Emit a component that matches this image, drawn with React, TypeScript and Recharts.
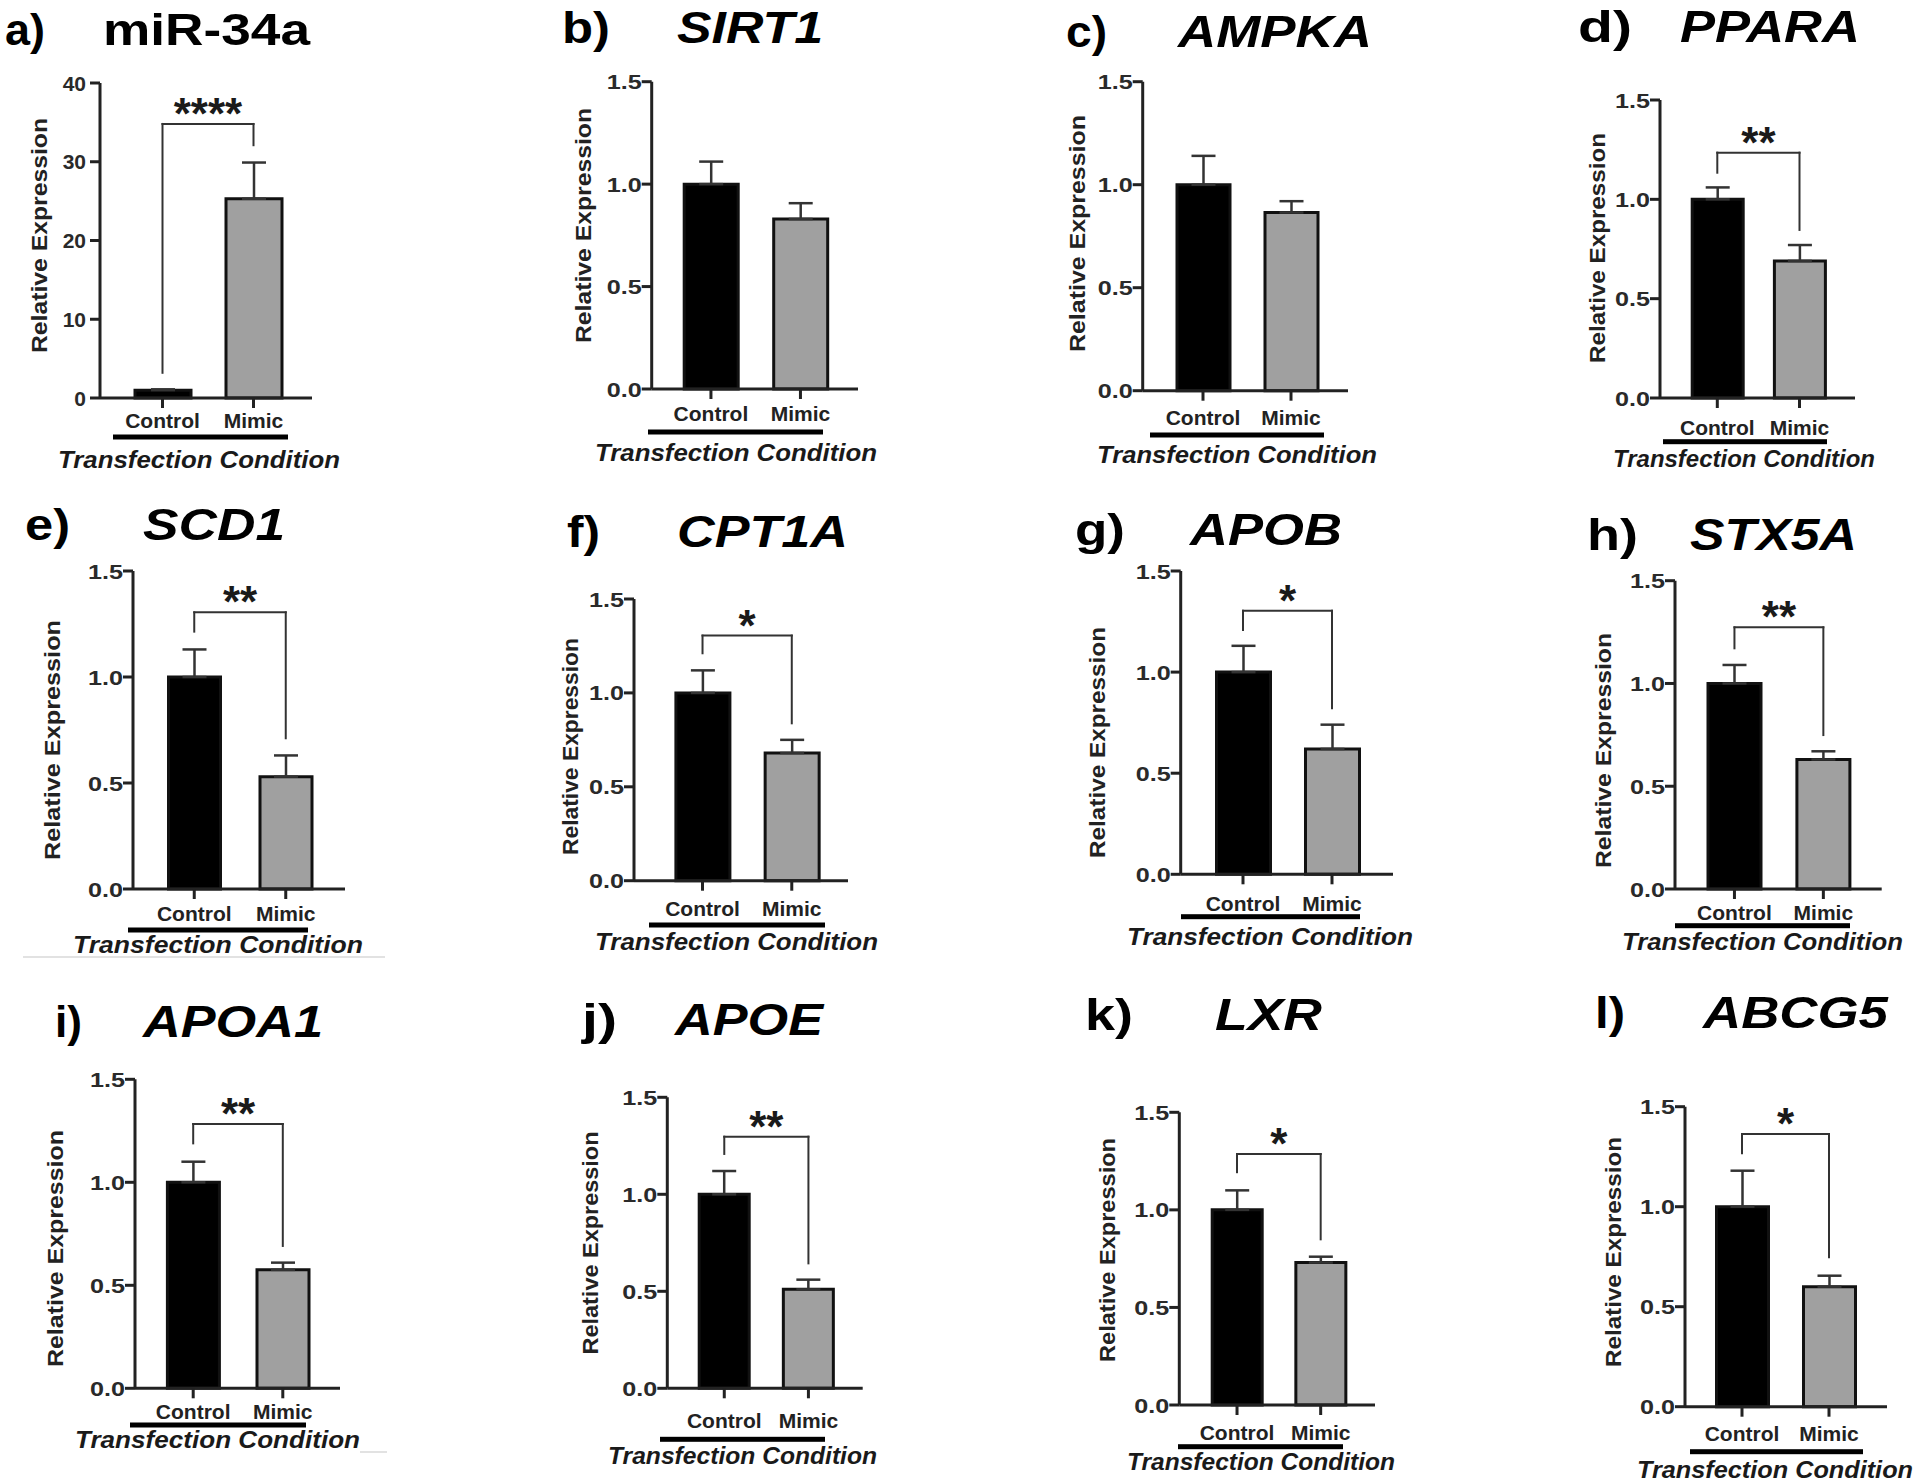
import React from "react";
import {
  BarChart,
  Bar,
  XAxis,
  YAxis,
  Cell,
  ErrorBar,
  ReferenceLine,
  Customized,
} from "recharts";

const FONT = '"Liberation Sans", Arial, Helvetica, sans-serif';
const PAGE_W = 1920;
const PAGE_H = 1482;
const YAXIS_W = 80;
const XAXIS_H = 60;

// ---- data ----
const PANEL_LETTERS = ["a)", "b)", "c)", "d)", "e)", "f)", "g)", "h)", "i)", "j)", "k)", "l)"];
const GENES = ["miR-34a", "SIRT1", "AMPKA", "PPARA", "SCD1", "CPT1A", "APOB", "STX5A", "APOA1", "APOE", "LXR", "ABCG5"];
const CATEGORIES = ["Control", "Mimic"];
const CONTROL_MEAN = [1.0, 1.0, 1.0, 1.0, 1.0, 1.0, 1.0, 1.0, 1.0, 1.0, 1.0, 1.0];
const CONTROL_SEM = [0.1, 0.11, 0.14, 0.06, 0.13, 0.12, 0.13, 0.09, 0.1, 0.12, 0.1, 0.18];
const MIMIC_MEAN = [25.3, 0.83, 0.865, 0.69, 0.53, 0.68, 0.62, 0.63, 0.575, 0.51, 0.73, 0.6];
const MIMIC_SEM = [4.6, 0.077, 0.055, 0.08, 0.1, 0.07, 0.12, 0.04, 0.035, 0.05, 0.03, 0.055];
const Y_MAX = [40, 1.5, 1.5, 1.5, 1.5, 1.5, 1.5, 1.5, 1.5, 1.5, 1.5, 1.5];
const TICKS_MIR = [0, 10, 20, 30, 40];
const TICKS_REL = [0, 0.5, 1.0, 1.5];
const SIGNIFICANCE = ["****", "", "", "**", "**", "*", "*", "**", "**", "**", "*", "*"];
const BRACKET_TOP = [34.8, null, null, 1.235, 1.305, 1.305, 1.304, 1.273, 1.283, 1.297, 1.286, 1.363];
const BRACKET_LEFT_END = [3.2, null, null, 1.134, 1.214, 1.211, 1.208, 1.171, 1.189, 1.208, 1.193, 1.267];
const BRACKET_RIGHT_END = [32.1, null, null, 0.846, 0.711, 0.838, 0.821, 0.749, 0.691, 0.644, 0.849, 0.747];
const Y_TITLE = "Relative Expression";
const X_TITLE = "Transfection Condition";

// ---- where each panel sits on the page ----
const LAYOUT = [
  { axisX: 100, yTop: 83, y0: 398, xRight: 312, padL: 17, padR: 13, barSize: 56, xTM: 5, yTM: 4,
    letter: [5, 45, 45], title: [103, 310, 45], ylab: [39, 235.5, 235], xTitle: [58, 340, 460], under: [113, 288, 437] },
  { axisX: 651.7, yTop: 81.7, y0: 389, xRight: 858, padL: 14.5, padR: 12.8, barSize: 54, xTM: 7, yTM: 0,
    letter: [562, 610, 43], title: [677, 823, 43], ylab: [583, 225.5, 235], xTitle: [595, 877, 453], under: [648, 823, 432] },
  { axisX: 1142.7, yTop: 81.7, y0: 390.7, xRight: 1348, padL: 16.3, padR: 13, barSize: 53, xTM: 9, yTM: 0,
    letter: [1066, 1107, 47], title: [1178, 1372, 47], ylab: [1077, 233.5, 237], xTitle: [1097, 1377, 455], under: [1150, 1324, 435] },
  { axisX: 1660, yTop: 100, y0: 398, xRight: 1855, padL: 16.2, padR: 14.4, barSize: 51, xTM: 12, yTM: 0,
    letter: [1578, 1632, 42], title: [1680, 1860, 42], ylab: [1597, 248, 230], xTitle: [1613, 1875, 459], under: [1663, 1827, 441.7] },
  { axisX: 133, yTop: 571, y0: 889, xRight: 345, padL: 15.5, padR: 13.5, barSize: 52, xTM: 7, yTM: 0,
    letter: [25, 70, 540], title: [143, 285, 540], ylab: [52, 740, 240], xTitle: [73, 363, 945], under: [128, 308, 930], rule: [23, 385, 957] },
  { axisX: 634, yTop: 599, y0: 880.7, xRight: 848, padL: 23.9, padR: 11.6, barSize: 54, xTM: 10, yTM: 0,
    letter: [567, 600, 547], title: [677, 848, 547], ylab: [570, 746.5, 217], xTitle: [595, 878, 941.7], under: [649, 825, 925] },
  { axisX: 1180.7, yTop: 571, y0: 874.3, xRight: 1393, padL: 17.8, padR: 16.5, barSize: 54, xTM: 12, yTM: 0,
    letter: [1075, 1125, 545], title: [1190, 1342, 545], ylab: [1097, 742.5, 231], xTitle: [1127, 1413, 936.7], under: [1181, 1360, 916.7] },
  { axisX: 1675, yTop: 580.7, y0: 889, xRight: 1881.7, padL: 15, padR: 13.9, barSize: 53, xTM: 6, yTM: 0,
    letter: [1587, 1638, 550], title: [1690, 1857, 550], ylab: [1603, 750.5, 235], xTitle: [1622, 1903, 941.7], under: [1675, 1850, 925.7] },
  { axisX: 135, yTop: 1079.3, y0: 1388.3, xRight: 340, padL: 13.4, padR: 12.4, barSize: 52, xTM: 6, yTM: 0,
    letter: [55, 82, 1037], title: [143, 323, 1037], ylab: [55, 1248.5, 237], xTitle: [75, 360, 1440], under: [130, 306, 1425], rule: [360, 387, 1452] },
  { axisX: 667.3, yTop: 1097.3, y0: 1388.3, xRight: 862.7, padL: 14.9, padR: 12.2, barSize: 50, xTM: 15, yTM: 0,
    letter: [582, 617, 1035], title: [675, 823, 1035], ylab: [590, 1243, 223], xTitle: [608, 877, 1456], under: [660, 825, 1439.3] },
  { axisX: 1179.3, yTop: 1112.3, y0: 1405, xRight: 1375, padL: 15.9, padR: 12.5, barSize: 50, xTM: 10, yTM: 0,
    letter: [1085, 1133, 1030], title: [1215, 1322, 1030], ylab: [1107, 1250, 224], xTitle: [1127, 1395, 1461.7], under: [1178, 1343, 1446.7] },
  { axisX: 1685, yTop: 1106.7, y0: 1406.7, xRight: 1887, padL: 13.5, padR: 14.5, barSize: 52, xTM: 9, yTM: 0,
    letter: [1595, 1625, 1028], title: [1703, 1888, 1028], ylab: [1613, 1252, 230], xTitle: [1637, 1913, 1470], under: [1690, 1863, 1451.7] },
];

const BAR_FILLS = ["#000000", "#a0a0a0"];
const AXIS = { stroke: "#222", strokeWidth: 3 };

function YTick(props: any) {
  const { x, y, payload, decimal } = props;
  const label = decimal ? Number(payload.value).toFixed(1) : String(payload.value);
  return (
    <text
      x={x}
      y={y}
      dy="0.36em"
      textAnchor="end"
      fontFamily={FONT}
      fontSize={21}
      fontWeight={700}
      fill="#2a2a2a"
      textLength={decimal ? 35 : undefined}
      lengthAdjust="spacingAndGlyphs"
    >
      {label}
    </text>
  );
}

function PanelText({ i }: { i: number }) {
  const L: any = LAYOUT[i];
  const [lx1, lx2, lb] = L.letter;
  const [tx1, tx2, tb] = L.title;
  const [ycx, ycy, ylen] = L.ylab;
  const [xx1, xx2, xcy] = L.xTitle;
  const [ux1, ux2, uy] = L.under;
  return (
    <g fontFamily={FONT}>
      <text x={lx1} y={lb} fontSize={44} fontWeight={700} fill="#000"
        textLength={lx2 - lx1} lengthAdjust="spacingAndGlyphs">
        {PANEL_LETTERS[i]}
      </text>
      <text x={tx1} y={tb} fontSize={44} fontWeight={700} fontStyle={i === 0 ? "normal" : "italic"} fill="#000"
        textLength={tx2 - tx1} lengthAdjust="spacingAndGlyphs">
        {GENES[i]}
      </text>
      <text x={ycx} y={ycy} transform={`rotate(-90 ${ycx} ${ycy})`} textAnchor="middle" dominantBaseline="central"
        fontSize={22} fontWeight={700} fill="#222" textLength={ylen} lengthAdjust="spacingAndGlyphs">
        {Y_TITLE}
      </text>
      <rect x={ux1} y={uy - 2.5} width={ux2 - ux1} height={5} fill="#000" />
      <text x={xx1} y={xcy + 8} fontSize={23} fontWeight={700} fontStyle="italic" fill="#1a1a1a"
        textLength={xx2 - xx1} lengthAdjust="spacingAndGlyphs">
        {X_TITLE}
      </text>
      {L.rule && (
        <line x1={L.rule[0]} x2={L.rule[1]} y1={L.rule[2]} y2={L.rule[2]} stroke="#d8d8d8" strokeWidth={1.5} />
      )}
    </g>
  );
}

const starLabel = (text: string) => (props: any) => {
  const vb = props.viewBox || {};
  return (
    <text x={vb.x + (vb.width || 0) / 2} y={vb.y + 5} textAnchor="middle" fontFamily={FONT}
      fontSize={44} fontWeight={700} fill="#1a1a1a">
      {text}
    </text>
  );
};

function Panel({ i }: { i: number }) {
  const L: any = LAYOUT[i];
  const data = CATEGORIES.map((name, k) => ({
    name,
    value: k === 0 ? CONTROL_MEAN[i] : MIMIC_MEAN[i],
    err: [0, k === 0 ? CONTROL_SEM[i] : MIMIC_SEM[i]],
  }));
  const ticks = i === 0 ? TICKS_MIR : TICKS_REL;
  const top = BRACKET_TOP[i];
  const bracketStyle = { stroke: "#333", strokeWidth: 2, strokeLinecap: "square" as const };

  return (
    <div style={{ position: "absolute", left: 0, top: 0 }}>
      <BarChart
        width={PAGE_W}
        height={PAGE_H}
        data={data}
        margin={{
          top: L.yTop,
          left: L.axisX - YAXIS_W,
          right: PAGE_W - L.xRight,
          bottom: PAGE_H - L.y0 - XAXIS_H,
        }}
      >
        <XAxis
          dataKey="name"
          type="category"
          height={XAXIS_H}
          interval={0}
          padding={{ left: L.padL, right: L.padR }}
          tickSize={10}
          tickMargin={L.xTM}
          axisLine={AXIS}
          tickLine={AXIS}
          tick={{ fontSize: 21, fontWeight: 700, fill: "#222", fontFamily: FONT }}
        />
        <YAxis
          type="number"
          width={YAXIS_W}
          domain={[0, Y_MAX[i]]}
          ticks={ticks}
          interval={0}
          tickSize={10}
          tickMargin={L.yTM}
          axisLine={AXIS}
          tickLine={AXIS}
          tick={(p: any) => <YTick {...p} decimal={i !== 0} />}
        />
        <Bar dataKey="value" barSize={L.barSize} stroke="#111" strokeWidth={3} isAnimationActive={false}>
          {data.map((_, k) => (
            <Cell key={k} fill={BAR_FILLS[k]} stroke="#111" strokeWidth={3} />
          ))}
          <ErrorBar dataKey="err" direction="y" width={12} stroke="#333" strokeWidth={2.5} />
        </Bar>
        {top != null && (
          <ReferenceLine
            segment={[{ x: CATEGORIES[0], y: top }, { x: CATEGORIES[1], y: top }]}
            {...bracketStyle}
            label={starLabel(SIGNIFICANCE[i])}
          />
        )}
        {top != null && (
          <ReferenceLine
            segment={[{ x: CATEGORIES[0], y: BRACKET_LEFT_END[i] as number }, { x: CATEGORIES[0], y: top }]}
            {...bracketStyle}
          />
        )}
        {top != null && (
          <ReferenceLine
            segment={[{ x: CATEGORIES[1], y: BRACKET_RIGHT_END[i] as number }, { x: CATEGORIES[1], y: top }]}
            {...bracketStyle}
          />
        )}
        <Customized component={<PanelText i={i} />} />
      </BarChart>
    </div>
  );
}

export default function App() {
  return (
    <div
      style={{
        position: "absolute",
        left: 0,
        top: 0,
        width: PAGE_W,
        height: PAGE_H,
        background: "#fff",
        overflow: "hidden",
      }}
    >
      {GENES.map((g, i) => (
        <Panel key={g} i={i} />
      ))}
    </div>
  );
}
